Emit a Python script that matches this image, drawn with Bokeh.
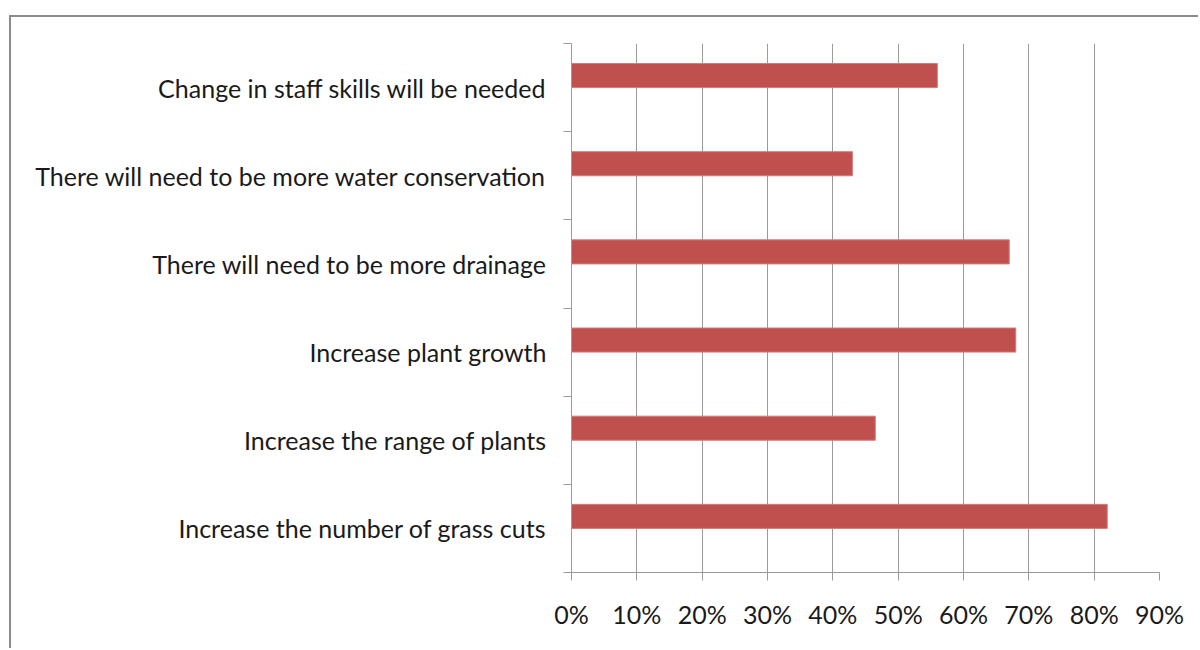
from bokeh.plotting import figure
from bokeh.models import (FixedTicker, PrintfTickFormatter, Range1d, ColumnDataSource)
from bokeh.transform import dodge
from bokeh.embed import file_html
from bokeh.resources import INLINE

# Data (top to bottom as shown)
categories = [
    "Change in staff skills will be needed",
    "There will need to be more water conservation",
    "There will need to be more drainage",
    "Increase plant growth",
    "Increase the range of plants",
    "Increase the number of grass cuts",
]
values = [56, 43, 67, 68, 46.5, 82]
x_ticks = [0, 10, 20, 30, 40, 50, 60, 70, 80, 90]

n = len(categories)
ypos = [n - i for i in range(n)]
BAR_H = 0.273

FONT = "Lato"
TXT = "#1a1a1a"
GRID = "#9a9a9a"

p = figure(width=1189, height=633, output_backend="svg", toolbar_location=None,
           x_range=Range1d(0, 90), y_range=Range1d(0.5, n + 0.5),
           min_border_left=560, min_border_right=41, min_border_top=26, min_border_bottom=78)
p.margin = (15, 0, 0, 9)
p.styles = {"border-top": "2px solid #8c8c8c", "border-left": "2px solid #8c8c8c"}
p.outline_line_color = None
p.background_fill_color = "white"
p.border_fill_color = "white"

src = ColumnDataSource(dict(y=ypos, v=values, cat=categories))
# bars sit in the upper slot of each category (second, empty series slot below)
p.hbar(y=dodge("y", BAR_H / 2), right="v", left=0, height=BAR_H, source=src,
       fill_color="#C0504D", line_color="#d27d7a", line_width=1)

# x axis
xa = p.xaxis[0]
xa.ticker = FixedTicker(ticks=x_ticks, minor_ticks=[])
xa.formatter = PrintfTickFormatter(format="%d%%")
xa.axis_line_color = GRID
xa.major_tick_line_color = GRID
xa.major_tick_in = 0
xa.major_tick_out = 8
xa.minor_tick_line_color = None
xa.major_label_text_font = FONT
xa.major_label_text_font_size = "25px"
xa.major_label_text_color = TXT
xa.major_label_standoff = 18

# y axis
ya = p.yaxis[0]
ya.ticker = FixedTicker(ticks=ypos, minor_ticks=[k + 0.5 for k in range(0, n + 1)])
ya.major_label_overrides = {yy: c for yy, c in zip(ypos, categories)}
ya.axis_line_color = GRID
ya.major_tick_line_color = None
ya.major_tick_in = 0
ya.major_tick_out = 0
ya.minor_tick_line_color = GRID
ya.minor_tick_in = 0
ya.minor_tick_out = 8
ya.major_label_text_font = FONT
ya.major_label_text_font_size = "25px"
ya.major_label_text_color = TXT
ya.major_label_standoff = 17

p.xgrid.ticker = FixedTicker(ticks=x_ticks)
p.xgrid.grid_line_color = GRID
p.xgrid.grid_line_width = 1
p.ygrid.grid_line_color = None

open("out.html", "w").write(file_html(p, INLINE))
